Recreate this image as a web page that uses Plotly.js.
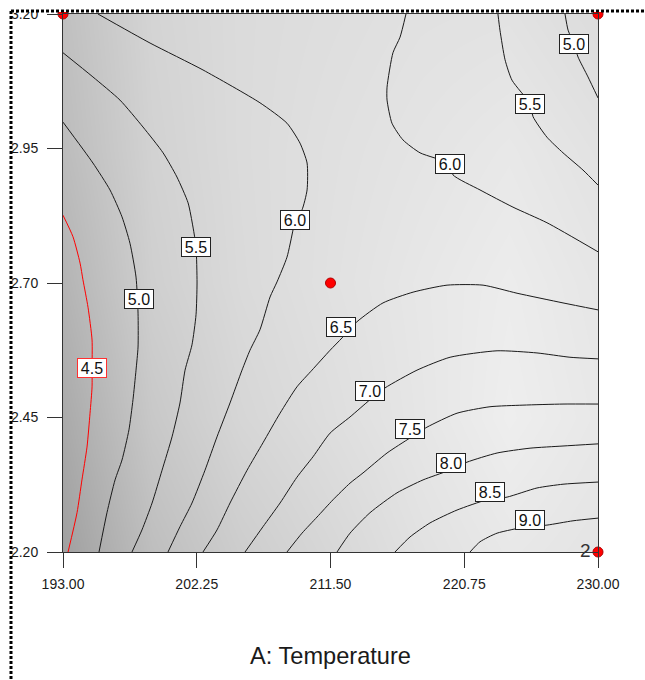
<!DOCTYPE html>
<html>
<head>
<meta charset="utf-8">
<script src="https://cdn.plot.ly/plotly-3.0.1.min.js"></script>
<style>html,body{margin:0;padding:0;background:#fff;}#chart{width:645px;height:680px;}</style>
</head>
<body>
<div id="chart"></div>
<script>
// ---- Axis ticks ----
const xTickVals = [193, 202.25, 211.5, 220.75, 230];
const xTickText = ['193.00', '202.25', '211.50', '220.75', '230.00'];
const yTickVals = [2.2, 2.45, 2.7, 2.95, 3.2];
const yTickText = ['2.20', '2.45', '2.70', '2.95', '3.20'];

// ---- Background shading (gray level) ----
const bgX = [193, 199.17, 205.33, 211.5, 217.67, 223.83, 230];
const bgY = [2.2, 2.45, 2.7, 2.95, 3.2];
const bgShade = [
  [160, 190, 205, 215, 225, 232, 228],
  [170, 200, 214, 222, 230, 238, 232],
  [180, 207, 218, 225, 231, 236, 230],
  [188, 210, 219, 224, 228, 232, 226],
  [192, 212, 219, 222, 225, 226, 220]
];

// ---- Contour lines ----
const c45x = [193.00,193.69,194.18,194.38,194.73,195.01,195.01,195.01,194.87,194.66,194.31,193.97,193.35];
const c45y = [2.826,2.786,2.737,2.706,2.655,2.594,2.542,2.507,2.458,2.395,2.334,2.273,2.200];

const c50ax = [193.00,195.07,196.25,197.08,197.63,198.05,198.19,198.19,198.05,197.84,197.56,197.08,196.60,196.04,195.49];
const c50ay = [2.999,2.923,2.873,2.823,2.774,2.711,2.644,2.581,2.538,2.483,2.427,2.371,2.334,2.273,2.200];
const c50bx = [227.72,227.93,228.34,228.62,229.31,230.00];
const c50by = [3.200,3.170,3.144,3.120,3.083,3.044];

const c55ax = [193.00,195.07,196.94,198.53,199.92,200.88,201.65,201.99,202.20,202.27,202.20,201.92,201.44,201.09,200.54,199.85,199.16,198.46,197.77];
const c55ay = [3.128,3.083,3.040,2.990,2.942,2.897,2.849,2.804,2.767,2.700,2.641,2.585,2.538,2.477,2.414,2.352,2.291,2.241,2.200];
const c55bx = [223.08,223.22,223.57,224.05,225.30,225.51,226.47,227.58,228.96,230.00];
const c55by = [3.200,3.170,3.115,3.077,3.033,3.009,2.971,2.942,2.910,2.882];

const c60ax = [195.42,199.02,202.68,206.62,208.49,209.39,209.88,209.88,209.53,209.04,208.91,208.49,207.80,207.32,206.62,205.93,205.38,204.55,203.65,202.82,201.92,201.09,200.26];
const c60ay = [3.200,3.146,3.096,3.035,2.997,2.960,2.923,2.873,2.836,2.817,2.799,2.748,2.702,2.674,2.613,2.575,2.538,2.477,2.414,2.352,2.291,2.247,2.200];
const c60bx = [216.72,216.31,215.82,215.41,215.41,215.75,216.51,217.69,219.77,219.97,221.84,224.12,226.47,230.00];
const c60by = [3.200,3.157,3.128,3.064,3.040,2.997,2.966,2.942,2.921,2.901,2.873,2.841,2.812,2.758];

const c65x = [202.68,203.65,204.55,205.73,206.83,208.01,209.18,210.22,211.47,212.30,213.33,215.13,217.21,219.56,222.05,224.40,227.58,230.00];
const c65y = [2.200,2.241,2.291,2.352,2.403,2.458,2.507,2.538,2.575,2.598,2.628,2.663,2.683,2.696,2.696,2.681,2.663,2.650];

const c70x = [205.59,206.83,208.01,209.18,210.29,211.47,212.85,214.23,215.27,217.48,219.77,223.02,225.78,228.06,230.00];
const c70y = [2.200,2.247,2.291,2.339,2.377,2.421,2.451,2.483,2.505,2.538,2.562,2.574,2.570,2.562,2.559];

const c75x = [208.49,209.53,210.57,211.67,212.85,213.75,215.41,217.00,218.17,220.25,222.53,224.81,227.58,230.00];
const c75y = [2.200,2.235,2.265,2.297,2.328,2.347,2.384,2.412,2.432,2.458,2.470,2.473,2.475,2.475];

const c80x = [211.95,212.85,214.23,216.10,217.90,219.63,220.94,223.02,225.30,227.58,230.00];
const c80y = [2.200,2.235,2.273,2.310,2.334,2.351,2.367,2.384,2.393,2.397,2.401];

const c85x = [215.96,217.00,218.38,220.25,222.32,223.71,225.78,227.58,230.00];
const c85y = [2.200,2.228,2.254,2.278,2.297,2.302,2.319,2.326,2.330];

const c90x = [221.15,221.84,223.02,225.09,226.47,228.27,230.00];
const c90y = [2.200,2.219,2.235,2.247,2.250,2.258,2.263];

// ---- Contour labels ----
const labelText = ['4.5','5.0','5.5','6.0','6.0','5.5','5.0','6.5','7.0','7.5','8.0','8.5','9.0'];
const labelX = [195.01,198.26,202.20,209.04,219.77,225.30,228.34,212.23,214.23,217.00,219.83,222.53,225.30];
const labelY = [2.542,2.670,2.767,2.817,2.921,3.033,3.144,2.618,2.499,2.429,2.365,2.312,2.260];

// ---- Design points ----
const ptX = [193, 230, 211.5, 230];
const ptY = [3.2, 3.2, 2.7, 2.2];

const lineSets = [
  [c45x, c45y, 'red'],
  [c50ax, c50ay, '#1a1a1a'], [c50bx, c50by, '#1a1a1a'],
  [c55ax, c55ay, '#1a1a1a'], [c55bx, c55by, '#1a1a1a'],
  [c60ax, c60ay, '#1a1a1a'], [c60bx, c60by, '#1a1a1a'],
  [c65x, c65y, '#1a1a1a'], [c70x, c70y, '#1a1a1a'], [c75x, c75y, '#1a1a1a'],
  [c80x, c80y, '#1a1a1a'], [c85x, c85y, '#1a1a1a'], [c90x, c90y, '#1a1a1a']
];

const traces = [{
  type: 'heatmap', x: bgX, y: bgY, z: bgShade, zmin: 0, zmax: 255,
  colorscale: [[0, 'rgb(0,0,0)'], [1, 'rgb(255,255,255)']],
  zsmooth: 'best', showscale: false, hoverinfo: 'skip'
}];
lineSets.forEach(s => traces.push({
  type: 'scatter', mode: 'lines', x: s[0], y: s[1],
  line: {color: s[2], width: 1, shape: 'spline', smoothing: 0.6},
  hoverinfo: 'skip', showlegend: false
}));
traces.push({
  type: 'scatter', mode: 'markers', x: ptX, y: ptY, cliponaxis: false,
  marker: {color: '#ff0000', size: 10, line: {color: '#b00000', width: 1}},
  showlegend: false, hoverinfo: 'skip'
});

const annotations = labelText.map((t, i) => ({
  x: labelX[i], y: labelY[i], xref: 'x', yref: 'y', text: t, showarrow: false,
  font: {family: 'Arial, Liberation Sans, sans-serif', size: 16, color: '#111'},
  bgcolor: '#ffffff', bordercolor: (t === '4.5' ? '#ff3030' : '#222'), borderwidth: 1,
  borderpad: 0, width: 28, height: 18
}));
annotations.push({
  x: 230, y: 2.2, xref: 'x', yref: 'y', text: '2', showarrow: false,
  xanchor: 'right', yanchor: 'middle', xshift: -5, yshift: 2,
  font: {family: 'Arial, Liberation Sans, sans-serif', size: 19, color: '#333'}
});

const pxX = p => (p - 63) / 535;
const pxY = p => (552 - p) / 538;

const layout = {
  width: 645, height: 680,
  margin: {l: 63, r: 47, t: 14, b: 128},
  paper_bgcolor: '#ffffff', plot_bgcolor: '#ffffff',
  font: {family: 'Arial, Liberation Sans, sans-serif', color: '#1a1a1a'},
  showlegend: false,
  xaxis: {
    range: [193, 230], tickvals: xTickVals, ticktext: xTickText,
    ticks: 'outside', ticklen: 15, tickwidth: 1, tickcolor: '#333',
    showline: true, linecolor: '#333', linewidth: 1, mirror: true,
    showgrid: false, zeroline: false, ticklabelstandoff: 4,
    tickfont: {size: 14, color: '#1a1a1a'},
    title: {text: 'A: Temperature', font: {size: 23.6, color: '#1a1a1a'}, standoff: 56}
  },
  yaxis: {
    range: [2.2, 3.2], tickvals: yTickVals, ticktext: yTickText,
    ticks: 'outside', ticklen: 15, tickwidth: 1, tickcolor: '#333',
    showline: true, linecolor: '#333', linewidth: 1, mirror: true,
    showgrid: false, zeroline: false, ticklabelstandoff: 6,
    tickfont: {size: 14, color: '#1a1a1a'}
  },
  annotations: annotations,
  shapes: [
    {type: 'rect', xref: 'paper', yref: 'paper', x0: pxX(-5), x1: pxX(650), y0: pxY(12), y1: pxY(-5),
     fillcolor: '#ffffff', line: {width: 0}, layer: 'above'},
    {type: 'rect', xref: 'paper', yref: 'paper', x0: pxX(-5), x1: pxX(11), y0: pxY(690), y1: pxY(-5),
     fillcolor: '#ffffff', line: {width: 0}, layer: 'above'},
    {type: 'line', xref: 'paper', yref: 'paper', x0: pxX(11), x1: pxX(645), y0: pxY(11), y1: pxY(11),
     line: {color: '#000', width: 3, dash: '3px,2px'}, layer: 'above'},
    {type: 'line', xref: 'paper', yref: 'paper', x0: pxX(11), x1: pxX(11), y0: pxY(11), y1: pxY(680),
     line: {color: '#000', width: 3, dash: '3px,2px'}, layer: 'above'}
  ]
};

Plotly.newPlot('chart', traces, layout, {displayModeBar: false, staticPlot: true});
</script>
</body>
</html>
